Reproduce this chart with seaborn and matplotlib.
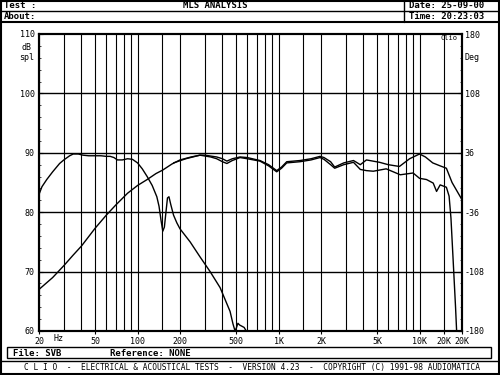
import numpy as np
import pandas as pd
import matplotlib
matplotlib.use("Agg")
import matplotlib.pyplot as plt
import seaborn as sns
from matplotlib.lines import Line2D
from matplotlib.patches import Rectangle

# ---------------- data ----------------
# Curve A: low-pass (woofer) response
a_freq = [20, 21, 22.7, 25, 28, 30, 33, 35, 38, 41, 45, 50, 55, 60, 64, 68, 72, 78, 85, 92,
          100, 108, 117, 127, 137, 142, 147, 151, 155, 159, 163, 167, 172, 180, 190, 200,
          236, 277, 327, 385, 453, 475, 490, 500, 515, 530, 550, 570, 590, 610]
a_db = [83.0, 84.3, 85.5, 86.8, 88.2, 88.8, 89.5, 89.8, 89.8, 89.6, 89.5, 89.5, 89.5, 89.4, 89.4, 89.2, 88.8, 88.8, 89.0, 88.9,
        88.3, 87.3, 86.0, 84.5, 82.6, 81.0, 78.5, 76.8, 77.5, 80.0, 82.4, 82.6, 81.3, 79.5, 78.2, 77.2,
        75.0, 72.5, 70.0, 67.3, 63.3, 61.2, 60.1, 60.4, 61.3, 61.0, 60.8, 60.6, 60.0, 58.0]

# Curve B: rising response reaching the 10K peak
b_freq = [20, 25, 30, 35, 40, 50, 60, 70, 85, 100, 117, 135, 151, 175, 200, 240, 277, 300, 364, 400,
          430, 470, 533, 600, 738, 850, 970, 1050, 1143, 1420, 1700, 1968, 2100, 2340, 2500, 2900,
          3400, 3800, 4200, 5200, 6000, 7200, 8500, 10000, 11000, 12400, 14000, 15500, 17000, 20000]
b_db = [67.0, 69.0, 71.0, 72.8, 74.3, 77.3, 79.5, 81.2, 83.2, 84.5, 85.5, 86.5, 87.1, 88.1, 88.8, 89.3, 89.6, 89.6, 89.3, 89.0,
        88.6, 89.0, 89.3, 89.2, 88.7, 88.0, 87.0, 87.6, 88.5, 88.7, 89.0, 89.4, 89.2, 88.5, 87.6, 88.3,
        88.7, 88.0, 88.8, 88.4, 88.0, 87.7, 89.0, 89.8, 89.3, 88.3, 87.8, 87.4, 85.0, 82.1]

# Curve C: response with the steep top-end roll-off
c_freq = [180, 220, 277, 330, 364, 400, 430, 470, 533, 600, 738, 850, 970, 1050, 1143, 1420, 1700,
          1968, 2100, 2340, 2500, 2900, 3400, 3800, 4200, 4700, 5800, 7300, 9000, 10000, 11200,
          12500, 13200, 14000, 15500, 16200, 16700, 17300, 18000, 18400]
c_db = [88.3, 89.0, 89.6, 89.3, 89.0, 88.5, 88.2, 88.7, 89.2, 89.0, 88.6, 87.8, 86.8, 87.4, 88.3, 88.5, 88.8,
        89.2, 88.9, 88.0, 87.4, 88.0, 88.4, 87.2, 87.0, 86.9, 87.3, 86.3, 86.6, 85.7, 85.5,
        84.9, 83.5, 84.6, 84.2, 82.7, 79.0, 72.0, 64.0, 59.0]

xtick_pos = [20, 50, 100, 200, 500, 1000, 2000, 5000, 10000, 15000, 20000]
xtick_lab = ["20", "50", "100", "200", "500", "1K", "2K", "5K", "10K", "20K", "20K"]
ytick_pos = [60, 70, 80, 90, 100, 110]
ytick_lab = ["60", "70", "80", "90", "100", "110"]
deg_lab = ["-180", "-108", "-36", "36", "108", "180"]

df = pd.concat([
    pd.DataFrame({"freq": a_freq, "db": a_db, "curve": "A"}),
    pd.DataFrame({"freq": b_freq, "db": b_db, "curve": "B"}),
    pd.DataFrame({"freq": c_freq, "db": c_db, "curve": "C"}),
], ignore_index=True)

# ---------------- style ----------------
sns.set_theme(style="white")
plt.rcParams['font.family'] = ['DejaVu Sans Mono', 'DejaVu Sans']
W, H = 500, 375
fig = plt.figure(figsize=(5, 3.75), dpi=100, facecolor="white")

def X(x):
    return x / W

def Y(y):
    return 1 - y / H

def hline(y, x0=0, x1=W, lw=1.0):
    fig.add_artist(Line2D([X(x0), X(x1)], [Y(y), Y(y)], color="black", lw=lw,
                          transform=fig.transFigure))

def vline(x, y0, y1, lw=1.0):
    fig.add_artist(Line2D([X(x), X(x)], [Y(y0), Y(y1)], color="black", lw=lw,
                          transform=fig.transFigure))

# frames
fig.add_artist(Rectangle((0.002, 0.002), 0.996, 0.996, fill=False, lw=1.5,
                         ec="black", transform=fig.transFigure))
hline(11, lw=1.0)
hline(21.5, lw=1.5)
vline(404, 0, 21.5, lw=1.0)
fig.add_artist(Rectangle((X(7), Y(358)), X(491 - 7), (358 - 347) / H, fill=False, lw=1.0,
                         ec="black", transform=fig.transFigure))
hline(361, lw=1.0)

hdr = dict(fontsize=6.5, fontweight="bold", va="center", color="black")
fig.text(X(4), Y(6), "Test :", ha="left", **hdr)
fig.text(X(215), Y(6), "MLS ANALYSIS", ha="center", **hdr)
fig.text(X(409), Y(6), "Date: 25-09-00", ha="left", **hdr)
fig.text(X(4), Y(16.5), "About:", ha="left", **hdr)
fig.text(X(409), Y(16.5), "Time: 20:23:03", ha="left", **hdr)
fig.text(X(13), Y(353), "File: SVB", ha="left", **hdr)
fig.text(X(110), Y(353), "Reference: NONE", ha="left", **hdr)
fig.text(X(252), Y(367.5),
         "C L I O  -  ELECTRICAL & ACOUSTICAL TESTS  -  VERSION 4.23  -  COPYRIGHT (C) 1991-98 AUDIOMATICA",
         ha="center", va="center", fontsize=5.7, color="black")

# ---------------- axes ----------------
ax = fig.add_axes([X(39), Y(331), X(462 - 39), (331 - 34) / H])
ax.set_facecolor("white")
ax.set_xscale("log")
ax.set_xlim(20, 20000)
ax.set_ylim(60, 110)

grid_f = ([m * 10 for m in range(2, 10)] + [m * 100 for m in range(1, 10)] +
          [m * 1000 for m in range(1, 10)] + [150, 1500, 10000, 15000, 20000])
for g in grid_f:
    ax.axvline(g, color="black", lw=0.8, zorder=1)
for yv in [70, 80, 90, 100]:
    ax.axhline(yv, color="black", lw=1.0, zorder=1)

sns.lineplot(data=df, x="freq", y="db", units="curve", estimator=None, sort=False,
             color="black", lw=1.0, ax=ax, legend=False, zorder=3)
ax.set_xlabel("")
ax.set_ylabel("")

for s in ax.spines.values():
    s.set_color("black")
    s.set_linewidth(1.5)

ax.set_xticks(xtick_pos)
ax.set_xticklabels(xtick_lab)
ax.xaxis.set_minor_locator(matplotlib.ticker.NullLocator())
ax.tick_params(axis="x", which="major", direction="out", length=2, width=0.8,
               labelsize=6, pad=2, colors="black", bottom=True)
ax.set_yticks(ytick_pos)
ax.set_yticklabels(ytick_lab)
ax.set_yticks(np.arange(60, 111, 2), minor=True)
ax.tick_params(axis="y", which="major", direction="in", length=3, width=0.8,
               labelsize=6, pad=3, colors="black", left=True)
ax.tick_params(axis="y", which="minor", direction="in", length=1.5, width=0.6, left=True)

ax2 = ax.twinx()
ax2.set_ylim(60, 110)
ax2.set_yticks(ytick_pos)
ax2.set_yticklabels(deg_lab)
ax2.set_yticks(np.arange(60, 111, 2), minor=True)
ax2.tick_params(axis="y", which="major", direction="in", length=3, width=0.8,
                labelsize=6, pad=2, colors="black", right=True)
ax2.tick_params(axis="y", which="minor", direction="in", length=1.5, width=0.6, right=True)
for s in ax2.spines.values():
    s.set_color("black")
    s.set_linewidth(1.5)
ax2.grid(False)
ax.grid(False)

lab = dict(fontsize=6, color="black", va="center")
fig.text(X(27), Y(48), "dB", ha="center", **lab)
fig.text(X(27), Y(57), "spl", ha="center", **lab)
fig.text(X(472), Y(58), "Deg", ha="center", **lab)
fig.text(X(58.5), Y(338.5), "Hz", ha="center", **lab)
fig.text(X(449), Y(38), "Clio", ha="center", fontsize=5, color="black", va="center")

fig.savefig("out.png", dpi=100, facecolor="white")
